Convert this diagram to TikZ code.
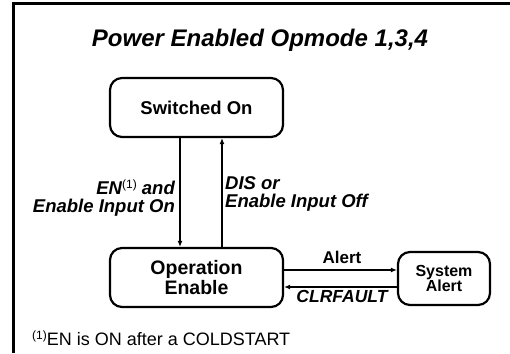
\documentclass[tikz,border=0pt]{standalone}
\usepackage{fontspec}
\setmainfont{Liberation Sans}
\usepackage{tikz}
\usetikzlibrary{arrows.meta,positioning,calc}

\begin{document}
\begin{tikzpicture}[x=1pt, y=-1pt,
    state/.style={draw, line width=2.2pt, rounded corners=12pt, align=center,
        font=\bfseries\fontsize{18.5}{17}\selectfont, inner sep=0pt},
    trans/.style={font=\bfseries\itshape\fontsize{18.5}{18}\selectfont, inner sep=0pt},
    link/.style={line width=1.6pt, -{Latex[length=6pt,width=5pt]}}]
    \useasboundingbox (0,0) rectangle (510,353);
    % frame
    \draw[line width=3pt] (13,353) |- (510,4);
    \node[font=\bfseries\itshape\fontsize{24}{26}\selectfont] (title) at (260,40) {Power Enabled Opmode 1,3,4};

    % states
    \node[state, minimum width=173pt, minimum height=59pt] (sw) at (196.5,107.5) {Switched On};
    \node[state, minimum width=173pt, minimum height=59pt, font=\bfseries\fontsize{19.5}{17.5}\selectfont] (op) at (196.5,277.5) {Operation\\Enable};
    \node[state, minimum width=92pt, minimum height=53pt, font=\bfseries\fontsize{16}{15.5}\selectfont] (sa) at (444,278.5) {System\\Alert};

    % transitions
    \draw[link] ([xshift=-16.5pt]sw.south) -- ([xshift=-16.5pt]op.north);
    \draw[link] ([xshift=25.5pt]op.north) -- ([xshift=25.5pt]sw.south);
    \draw[link] ([yshift=7.5pt]op.east) -- ([yshift=7.5pt]op.east -| sa.west);
    \draw[link] ([yshift=-8.5pt]sa.west) -- ([yshift=-8.5pt]sa.west -| op.east);

    \node[trans, anchor=east, align=right] (en) at (175,198) {EN{\mdseries\upshape\fontsize{12}{12}\selectfont\raisebox{6pt}{(1)}} and\hspace{8pt}\\Enable Input On};
    \node[trans, anchor=west, align=left] (dis) at (225,194) {DIS or\\Enable Input Off};
    \node[font=\bfseries\fontsize{17}{17}\selectfont, inner sep=0pt] (alert) at (342,257) {Alert};
    \node[trans, font=\bfseries\itshape\fontsize{17.5}{17}\selectfont] (clr) at (342,296) {CLRFAULT};

    % footnote
    \node[anchor=base west, inner sep=0pt, font=\fontsize{18}{18}\selectfont] (note) at (32,345) {{\fontsize{12}{12}\selectfont\raisebox{6pt}{(1)}}EN is ON after a COLDSTART};
\end{tikzpicture}
\end{document}
